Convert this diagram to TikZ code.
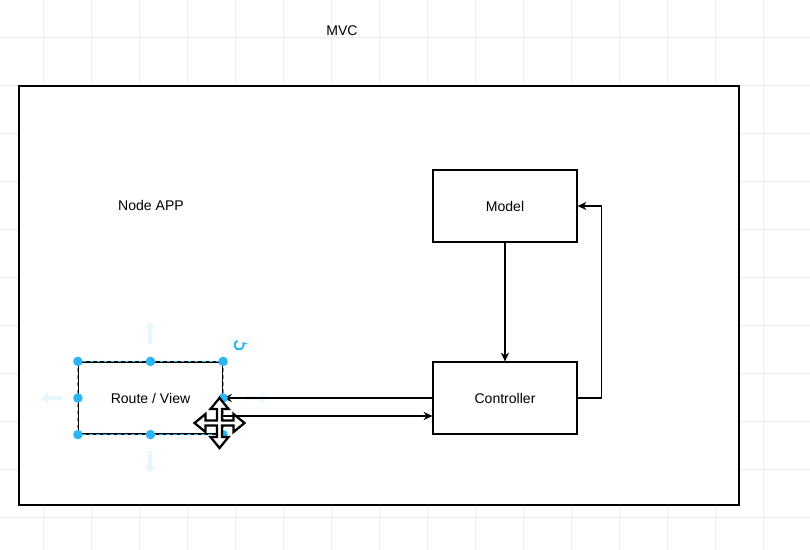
\documentclass[tikz,border=0pt]{standalone}
\usepackage{fontspec}
\setmainfont{Liberation Sans}
\usetikzlibrary{arrows.meta}

\definecolor{selblue}{HTML}{29B6F2}

\begin{document}
\begin{tikzpicture}[x=0.02cm, y=-0.02cm, font=\fontsize{8}{9.6}\selectfont,
        box/.style={draw, line width=0.7pt, fill=white, minimum width=2.88cm, minimum height=1.44cm, inner sep=0pt},
        link/.style={-{Stealth[length=5pt, width=4.6pt, inset=1.6pt]}, line width=0.65pt},
        gridline/.style={gray!13, line width=0.55pt},
        handle/.style={fill=selblue},
        hint/.style={selblue!11, line width=2.2pt, -{Triangle[length=4pt, width=6.5pt]}}]

        \useasboundingbox (0,0) rectangle (810,550);
        \fill[white] (0,0) rectangle (810,550);

        % canvas grid
        \foreach \gx in {43,91,...,763} \draw[gridline] (\gx,0) -- (\gx,550);
        \foreach \gy in {37,85,...,517} \draw[gridline] (0,\gy) -- (810,\gy);

        \node (title) at (342,31) {MVC};

        % the app frame
        \node[draw, fill=white, line width=0.85pt, minimum width=14.4cm, minimum height=8.38cm, inner sep=0pt] (app) at (379,295.5) {};
        \node (applabel) at (151,205) {Node APP};

        \node[box] (model) at (505,206) {Model};
        \node[box] (controller) at (505,398) {Controller};
        \node[box] (route) at (150.5,398) {Route / View};

        \draw[hint] (150,344) -- (150,322); % up
        \draw[hint] (63,398) -- (41,398); % left
        \draw[hint] (150,451) -- (150,473); % down
        \draw[hint] (246,398) -- (268,398); % right

        \draw[link] (model) -- (controller);
        \draw[link] (controller.east) -- ++(24,0) |- (model.east);
        \draw[link] (controller.west) -- (route.east);
        \draw[link] ([yshift=-0.36cm]route.east) -- ([yshift=-0.36cm]controller.west);

        % selection of Route / View
        \draw[selblue, line width=0.6pt, dash pattern=on 2pt off 2pt] (route.north west) rectangle (route.south east);
        \fill[handle] (route.north west) circle (0.095cm);
        \fill[handle] (route.north) circle (0.095cm);
        \fill[handle] (route.north east) circle (0.095cm);
        \fill[handle] (route.west) circle (0.095cm);
        \fill[handle] (route.east) circle (0.095cm);
        \fill[handle] (route.south west) circle (0.095cm);
        \fill[handle] (route.south) circle (0.095cm);
        \fill[handle] (route.south east) circle (0.095cm);

        % rotate icon
        \draw[selblue, line width=1.1pt, -{Stealth[length=2.5pt, width=3.5pt]}] (239,345) ++(110:0.09cm) arc[start angle=110, end angle=400, radius=0.09cm];

        % move cursor
        \begin{scope}[shift={(219.5,423)}]
            \draw[fill=white, line width=1.3pt, line join=miter]
                (0,-25) -- (9,-14) -- (2.5,-14) -- (2.5,-2.5) -- (14,-2.5) -- (14,-9) -- (25,0)
                -- (14,9) -- (14,2.5) -- (2.5,2.5) -- (2.5,14) -- (9,14) -- (0,25)
                -- (-9,14) -- (-2.5,14) -- (-2.5,2.5) -- (-14,2.5) -- (-14,9) -- (-25,0)
                -- (-14,-9) -- (-14,-2.5) -- (-2.5,-2.5) -- (-2.5,-14) -- (-9,-14) -- cycle;
        \end{scope}

    \end{tikzpicture}
\end{document}
